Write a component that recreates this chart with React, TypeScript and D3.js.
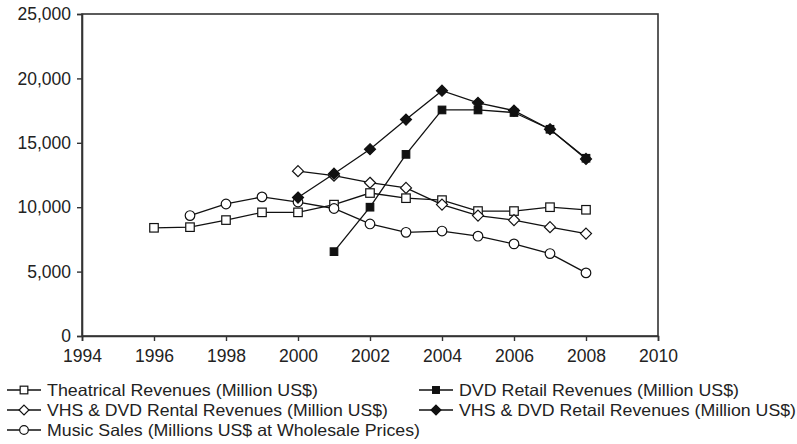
import React, { useRef, useEffect } from "react";
import * as d3 from "d3";

const years = [1996, 1997, 1998, 1999, 2000, 2001, 2002, 2003, 2004, 2005, 2006, 2007, 2008];

const theatrical = [8400, 8450, 9000, 9600, 9600, 10200, 11100, 10700, 10550, 9700, 9700, 10000, 9800];
const rental = [null, null, null, null, 12800, 12450, 11900, 11500, 10200, 9350, 9000, 8450, 7950];
const music = [null, 9350, 10250, 10800, 10400, 9900, 8700, 8050, 8150, 7750, 7150, 6400, 4900];
const dvdRetail = [null, null, null, null, null, 6550, 10000, 14100, 17550, 17550, 17350, 16050, 13800];
const vhsDvdRetail = [null, null, null, null, 10750, 12600, 14500, 16800, 19050, 18100, 17500, 16050, 13750];

const xTicks = [1994, 1996, 1998, 2000, 2002, 2004, 2006, 2008, 2010];
const yTicks = [0, 5000, 10000, 15000, 20000, 25000];

const seriesNames = [
  "Theatrical Revenues (Million US$)",
  "DVD Retail Revenues (Million US$)",
  "VHS & DVD Rental Revenues (Million US$)",
  "VHS & DVD Retail Revenues (Million US$)",
  "Music Sales (Millions US$ at Wholesale Prices)",
];

type Shape = "square" | "diamond" | "circle";

const App = () => {
  const ref = useRef<SVGSVGElement>(null);

  useEffect(() => {
    const svg = d3.select(ref.current);
    svg.selectAll("*").remove();

    const left = 82, right = 658, top = 14, bottom = 336;
    const ink = "#111";
    const font = "'Liberation Sans', Arial, sans-serif";

    const x = d3.scaleLinear().domain([1994, 2010]).range([left, right]);
    const y = d3.scaleLinear().domain([0, 25000]).range([bottom, top]);

    // frame
    svg.append("rect")
      .attr("x", left).attr("y", top)
      .attr("width", right - left).attr("height", bottom - top)
      .attr("fill", "none").attr("stroke", "#333").attr("stroke-width", 1.6);

    const xAxis = svg.append("g")
      .attr("transform", `translate(0,${bottom})`)
      .call(d3.axisBottom(x).tickValues(xTicks).tickFormat(d3.format("d")).tickSizeOuter(0).tickSize(5).tickPadding(9));
    const yAxis = svg.append("g")
      .attr("transform", `translate(${left},0)`)
      .call(d3.axisLeft(y).tickValues(yTicks).tickFormat(d3.format(",")).tickSizeOuter(0).tickSize(5).tickPadding(6));
    [xAxis, yAxis].forEach((a) => {
      a.select(".domain").attr("stroke", "#333").attr("stroke-width", 1.6);
      a.selectAll("line").attr("stroke", "#333").attr("stroke-width", 1.4);
      a.selectAll("text").attr("fill", "#222").style("font-family", font).style("font-size", "17.5px");
    });

    const drawMarker = (g: any, shape: Shape, filled: boolean, cx: number, cy: number, k = 1) => {
      const fill = filled ? ink : "#fff";
      if (shape === "square") {
        const s = (filled ? 7.5 : 8.5) * k;
        g.append("rect").attr("x", cx - s / 2).attr("y", cy - s / 2).attr("width", s).attr("height", s)
          .attr("fill", fill).attr("stroke", ink).attr("stroke-width", 1.2);
      } else if (shape === "diamond") {
        const r = 5.5 * k;
        g.append("path").attr("d", `M${cx},${cy - r}L${cx + r},${cy}L${cx},${cy + r}L${cx - r},${cy}Z`)
          .attr("fill", fill).attr("stroke", ink).attr("stroke-width", 1.2);
      } else {
        g.append("circle").attr("cx", cx).attr("cy", cy).attr("r", 4.8 * k)
          .attr("fill", fill).attr("stroke", ink).attr("stroke-width", 1.2);
      }
    };

    const series: { values: (number | null)[]; shape: Shape; filled: boolean }[] = [
      { values: theatrical, shape: "square", filled: false },
      { values: music, shape: "circle", filled: false },
      { values: rental, shape: "diamond", filled: false },
      { values: dvdRetail, shape: "square", filled: true },
      { values: vhsDvdRetail, shape: "diamond", filled: true },
    ];

    const line = d3.line<[number, number]>().x((d) => x(d[0])).y((d) => y(d[1]));

    series.forEach((s) => {
      const pts = years.map((yr, i) => [yr, s.values[i]]).filter((d) => d[1] != null) as [number, number][];
      const g = svg.append("g");
      g.append("path").attr("d", line(pts)).attr("fill", "none").attr("stroke", ink).attr("stroke-width", 1.3);
      pts.forEach((p) => drawMarker(g, s.shape, s.filled, x(p[0]), y(p[1])));
    });

    // legend
    const legendItems: { name: string; shape: Shape; filled: boolean; col: number; row: number; w: number }[] = [
      { name: seriesNames[0], shape: "square", filled: false, col: 0, row: 0, w: 271 },
      { name: seriesNames[1], shape: "square", filled: true, col: 1, row: 0, w: 280 },
      { name: seriesNames[2], shape: "diamond", filled: false, col: 0, row: 1, w: 341 },
      { name: seriesNames[3], shape: "diamond", filled: true, col: 1, row: 1, w: 337 },
      { name: seriesNames[4], shape: "circle", filled: false, col: 0, row: 2, w: 373 },
    ];
    legendItems.forEach((it) => {
      const x0 = it.col === 0 ? 7 : 419;
      const cy = 390 + it.row * 20;
      const g = svg.append("g");
      g.append("line").attr("x1", x0).attr("x2", x0 + 34).attr("y1", cy).attr("y2", cy)
        .attr("stroke", ink).attr("stroke-width", 1.3);
      drawMarker(g, it.shape, it.filled, x0 + 17, cy, 0.9);
      g.append("text").attr("x", x0 + 40).attr("y", cy + 6)
        .attr("textLength", it.w).attr("lengthAdjust", "spacingAndGlyphs")
        .style("font-family", font).style("font-size", "16.5px").attr("fill", "#222")
        .text(it.name);
    });
  }, []);

  return (
    <svg
      ref={ref}
      width={797}
      height={444}
      style={{ position: "absolute", left: 0, top: 0, background: "#fff" }}
    />
  );
};

export default App;
